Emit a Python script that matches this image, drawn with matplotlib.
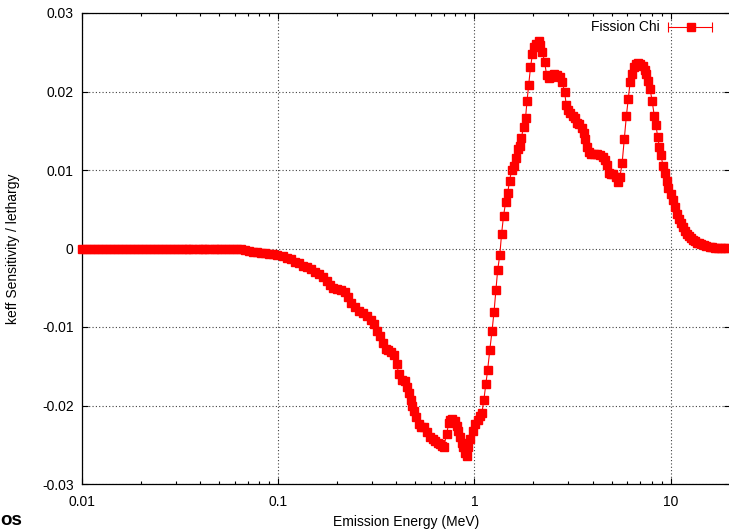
import numpy as np
import matplotlib
matplotlib.use("Agg")
import matplotlib.pyplot as plt
from matplotlib.ticker import LogLocator, FuncFormatter, MultipleLocator

plt.rcParams['font.family'] = ['Liberation Sans', 'DejaVu Sans']

# emission energy (MeV) and keff sensitivity per unit lethargy
energia = [
    0.0100, 0.0105, 0.0110, 0.0115, 0.0121, 0.0126, 0.0132, 0.0139, 0.0145, 0.0152,
    0.0160, 0.0167, 0.0175, 0.0184, 0.0192, 0.0202, 0.0211, 0.0221, 0.0232, 0.0243,
    0.0255, 0.0267, 0.0280, 0.0293, 0.0307, 0.0322, 0.0337, 0.0353, 0.0370, 0.0388,
    0.0407, 0.0426, 0.0446, 0.0468, 0.0490, 0.0514, 0.0538, 0.0564, 0.0591, 0.0619,
    0.0649, 0.0680, 0.0712, 0.0747, 0.0782, 0.0820, 0.0859, 0.0900, 0.0943, 0.0988,
    0.106, 0.111, 0.116, 0.122, 0.128, 0.134, 0.140, 0.147, 0.154, 0.161,
    0.169, 0.177, 0.184, 0.190, 0.199, 0.209, 0.219, 0.227, 0.235, 0.246,
    0.258, 0.270, 0.283, 0.297, 0.307, 0.318, 0.329, 0.341, 0.353, 0.362,
    0.375, 0.388, 0.402, 0.411, 0.426, 0.441, 0.452, 0.462, 0.473, 0.482,
    0.490, 0.502, 0.520, 0.535, 0.551, 0.571, 0.596, 0.612, 0.632, 0.649,
    0.670, 0.684, 0.696, 0.723, 0.738, 0.755, 0.773, 0.792, 0.813, 0.829,
    0.846, 0.862, 0.879, 0.897, 0.914, 0.932, 0.954, 0.983, 1.012, 1.042,
    1.073, 1.092, 1.117, 1.144, 1.168, 1.198, 1.230, 1.259, 1.286, 1.313,
    1.347, 1.376, 1.408, 1.442, 1.476, 1.511, 1.547, 1.583, 1.620, 1.663,
    1.702, 1.736, 1.780, 1.822, 1.854, 1.891, 1.931, 1.976, 2.016, 2.069,
    2.126, 2.171, 2.222, 2.280, 2.333, 2.397, 2.468, 2.553, 2.638, 2.732,
    2.807, 2.880, 2.941, 3.008, 3.083, 3.162, 3.249, 3.333, 3.424, 3.517,
    3.600, 3.673, 3.746, 3.835, 3.939, 4.075, 4.235, 4.386, 4.517, 4.634,
    4.749, 4.845, 4.959, 5.094, 5.276, 5.383, 5.509, 5.659, 5.808, 5.945,
    6.086, 6.215, 6.339, 6.489, 6.642, 6.800, 7.002, 7.210, 7.379, 7.510,
    7.670, 7.851, 8.056, 8.246, 8.422, 8.590, 8.762, 8.929, 9.140, 9.356,
    9.577, 9.735, 10.08, 10.32, 10.56, 10.81, 11.07, 11.33, 11.60, 11.88,
    12.16, 12.45, 12.74, 13.04, 13.35, 13.67, 13.99, 14.32, 14.71, 15.23,
    15.78, 16.34, 16.92, 17.53, 18.15, 18.80, 19.47,
]

sensibilidad = [
    -0.00003, -0.00003, -0.00003, -0.00003, -0.00003, -0.00003, -0.00003, -0.00003, -0.00003, -0.00003,
    -0.00003, -0.00008, -0.00008, -0.00008, -0.00008, -0.00008, -0.00008, -0.00008, -0.00008, -0.00008,
    -0.00008, -0.00006, -0.00006, -0.00006, -0.00006, -0.00006, -0.00006, -0.00006, -0.00006, -0.00006,
    -0.00006, -0.00003, -0.00003, -0.00003, -0.00003, -0.00003, -0.00003, -0.00003, -0.00003, -0.00002,
    -0.00005, -0.00020, -0.00030, -0.00040, -0.00050, -0.00060, -0.00060, -0.00070, -0.00070, -0.00080,
    -0.00096, -0.00121, -0.00140, -0.00166, -0.00191, -0.00217, -0.00236, -0.00261, -0.00293, -0.00319,
    -0.00357, -0.00420, -0.00465, -0.00497, -0.00522, -0.00535, -0.00548, -0.00620, -0.00688, -0.00739,
    -0.00790, -0.00828, -0.00860, -0.00917, -0.00968, -0.01045, -0.01121, -0.01210, -0.01274, -0.01299,
    -0.01321, -0.01363, -0.01465, -0.01605, -0.01669, -0.01694, -0.01767, -0.01847, -0.01936, -0.02000,
    -0.02064, -0.02149, -0.02236, -0.02268, -0.02280, -0.02340, -0.02404, -0.02427, -0.02446, -0.02472,
    -0.02488, -0.02516, -0.02531, -0.02361, -0.02229, -0.02179, -0.02166, -0.02198, -0.02255, -0.02319,
    -0.02404, -0.02472, -0.02531, -0.02599, -0.02637, -0.02535, -0.02421, -0.02331, -0.02230, -0.02185,
    -0.02140, -0.02096, -0.01928, -0.01720, -0.01545, -0.01291, -0.01045, -0.00803, -0.00535, -0.00280,
    -0.00080, 0.00191, 0.00420, 0.00586, 0.00701, 0.00866, 0.00994, 0.01057, 0.01159, 0.01268,
    0.01312, 0.01412, 0.01548, 0.01666, 0.01879, 0.02087, 0.02306, 0.02480, 0.02567, 0.02599,
    0.02637, 0.02586, 0.02503, 0.02370, 0.02210, 0.02175, 0.02191, 0.02217, 0.02204, 0.02191,
    0.02115, 0.01994, 0.01822, 0.01764, 0.01726, 0.01688, 0.01663, 0.01605, 0.01586, 0.01535,
    0.01465, 0.01395, 0.01299, 0.01229, 0.01210, 0.01200, 0.01204, 0.01185, 0.01163, 0.01127,
    0.01064, 0.00968, 0.00949, 0.00943, 0.00908, 0.00845, 0.00905, 0.01087, 0.01398, 0.01682,
    0.01907, 0.02119, 0.02226, 0.02310, 0.02344, 0.02357, 0.02353, 0.02325, 0.02280, 0.02217,
    0.02131, 0.02032, 0.01877, 0.01694, 0.01567, 0.01421, 0.01291, 0.01185, 0.01057, 0.00962,
    0.00860, 0.00773, 0.00697, 0.00612, 0.00526, 0.00442, 0.00378, 0.00319, 0.00268, 0.00229,
    0.00191, 0.00159, 0.00134, 0.00111, 0.00092, 0.00076, 0.00064, 0.00051, 0.00041, 0.00029,
    0.00022, 0.00015, 0.00010, 0.00006, 0.00004, 0.00002, 0.00001,
]

etiqueta = "Fission Chi"
rojo = '#ff0000'
fs = 10

fig = plt.figure(figsize=(7.29, 5.30), dpi=100)
ax = fig.add_axes([82 / 729, 46 / 530, 647.7 / 729, 471 / 530])

ax.plot(np.array(energia), np.array(sensibilidad), color=rojo, lw=0.8,
        marker='s', ms=5.3, mec=rojo, mfc=rojo, clip_on=False, zorder=3)

ax.set_xscale('log')
ax.set_xlim(0.01, 20)
ax.set_ylim(-0.03, 0.03)
ax.yaxis.set_major_locator(MultipleLocator(0.01))
ax.xaxis.set_major_locator(LogLocator(base=10))
ax.xaxis.set_minor_locator(LogLocator(base=10, subs=np.arange(2, 10)))
fmt = FuncFormatter(lambda v, p: '%g' % round(v, 6))
ax.xaxis.set_major_formatter(fmt)
ax.yaxis.set_major_formatter(fmt)
ax.xaxis.set_minor_formatter(FuncFormatter(lambda v, p: ''))

ax.tick_params(which='both', direction='in', top=True, right=True, labelsize=fs, width=0.8)
ax.tick_params(which='major', length=4.5)
ax.tick_params(which='minor', length=2.2)
ax.tick_params(axis='x', pad=8)
ax.tick_params(axis='y', pad=6)

ax.grid(True, which='major', color='0.25', linestyle=(0, (1, 2)), linewidth=0.8)
for s in ax.spines.values():
    s.set_linewidth(0.9)

ax.set_xlabel('Emission Energy (MeV)', fontsize=fs)
ax.xaxis.set_label_coords(0.5, -0.066)
ax.set_ylabel('keff Sensitivity / lethargy', fontsize=fs, labelpad=15.5)

# leyenda al estilo gnuplot
ly = 0.9709
ax.text(0.8913, ly, etiqueta, transform=ax.transAxes, ha='right', va='center', fontsize=fs)
ax.plot([0.9052, 0.9731], [ly, ly], color=rojo, lw=0.8, transform=ax.transAxes, clip_on=False)
ax.plot([0.9052, 0.9731], [ly, ly], color=rojo, ls='none', marker='|', ms=7, mew=0.8,
        transform=ax.transAxes, clip_on=False)
ax.plot([0.9395], [ly], color=rojo, marker='s', ms=5.3, transform=ax.transAxes, clip_on=False)

fig.text(0.001, 0.002, 'os', fontsize=13.5, fontweight='bold', ha='left', va='bottom')

fig.savefig('out.png', dpi=100)
plt.close()
